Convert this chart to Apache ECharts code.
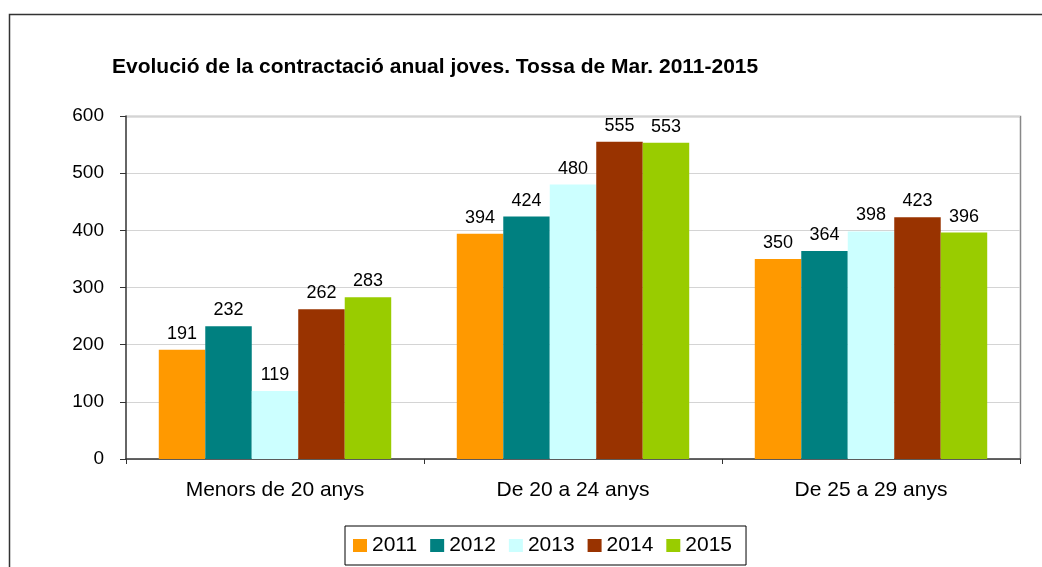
<!DOCTYPE html>
<html>
<head>
<meta charset="utf-8">
<script src="https://cdn.jsdelivr.net/npm/echarts@6/dist/echarts.min.js"></script>
<style>
  html, body { margin: 0; padding: 0; background: #fff; }
  #main { width: 1042px; height: 567px; }
</style>
</head>
<body>
<div id="main"></div>
<script>
var categories = ['Menors de 20 anys', 'De 20 a 24 anys', 'De 25 a 29 anys'];
var years = ['2011', '2012', '2013', '2014', '2015'];
var v2011 = [191, 394, 350];
var v2012 = [232, 424, 364];
var v2013 = [119, 480, 398];
var v2014 = [262, 555, 423];
var v2015 = [283, 553, 396];
var yTicks = [0, 100, 200, 300, 400, 500, 600];

var colors = ['#FF9900', '#008080', '#CCFFFF', '#993300', '#99CC00'];
var values = [v2011, v2012, v2013, v2014, v2015];

var myChart = echarts.init(document.getElementById('main'));

var series = years.map(function(y, i) {
    return {
        name: y,
        type: 'bar',
        data: values[i],
        barGap: '0%',
        barCategoryGap: '22%',
        itemStyle: { color: colors[i] },
        label: {
            show: true,
            position: 'top',
            distance: 7,
            color: '#000',
            fontFamily: 'Liberation Sans',
            fontSize: 18
        }
    };
});

var option = {
    animation: false,
    backgroundColor: '#fff',
    title: {
        text: 'Evolució de la contractació anual joves. Tossa de Mar. 2011-2015',
        left: 107,
        top: 52,
        textStyle: {
            fontFamily: 'Liberation Sans',
            fontWeight: 'bold',
            fontSize: 21,
            color: '#000'
        }
    },
    graphic: [{
        type: 'rect',
        shape: { x: 9.5, y: 14.5, width: 1100, height: 600 },
        style: { fill: 'none', stroke: '#333', lineWidth: 1.5 },
        silent: true
    }, {
        type: 'polyline',
        shape: { points: [[126, 116.5], [1020.5, 116.5], [1020.5, 459]] },
        style: { stroke: '#888', lineWidth: 1.5, fill: 'none' },
        silent: true
    }],
    legend: {
        data: years,
        bottom: 2,
        left: 345,
        itemWidth: 14,
        itemHeight: 13,
        itemGap: 13,
        icon: 'rect',
        padding: [9, 14, 9, 8],
        borderColor: '#000',
        borderWidth: 1,
        textStyle: {
            fontFamily: 'Liberation Sans',
            fontSize: 21,
            color: '#000'
        }
    },
    grid: {
        left: 126,
        right: 22,
        top: 116,
        bottom: 108,
        containLabel: false
    },
    xAxis: {
        type: 'category',
        data: categories,
        axisLine: { lineStyle: { color: '#333', width: 1.5 } },
        axisTick: { show: true, length: 5, lineStyle: { color: '#333' } },
        axisLabel: {
            margin: 21,
            color: '#000',
            fontFamily: 'Liberation Sans',
            fontSize: 21
        }
    },
    yAxis: {
        type: 'value',
        min: yTicks[0],
        max: yTicks[yTicks.length - 1],
        interval: 100,
        axisLine: { show: true, lineStyle: { color: '#333', width: 1.5 } },
        axisTick: { show: true, length: 6, lineStyle: { color: '#333' } },
        splitLine: { lineStyle: { color: '#d4d4d4' } },
        axisLabel: {
            margin: 22,
            color: '#000',
            fontFamily: 'Liberation Sans',
            fontSize: 19
        }
    },
    series: series
};
myChart.setOption(option);
</script>
</body>
</html>
